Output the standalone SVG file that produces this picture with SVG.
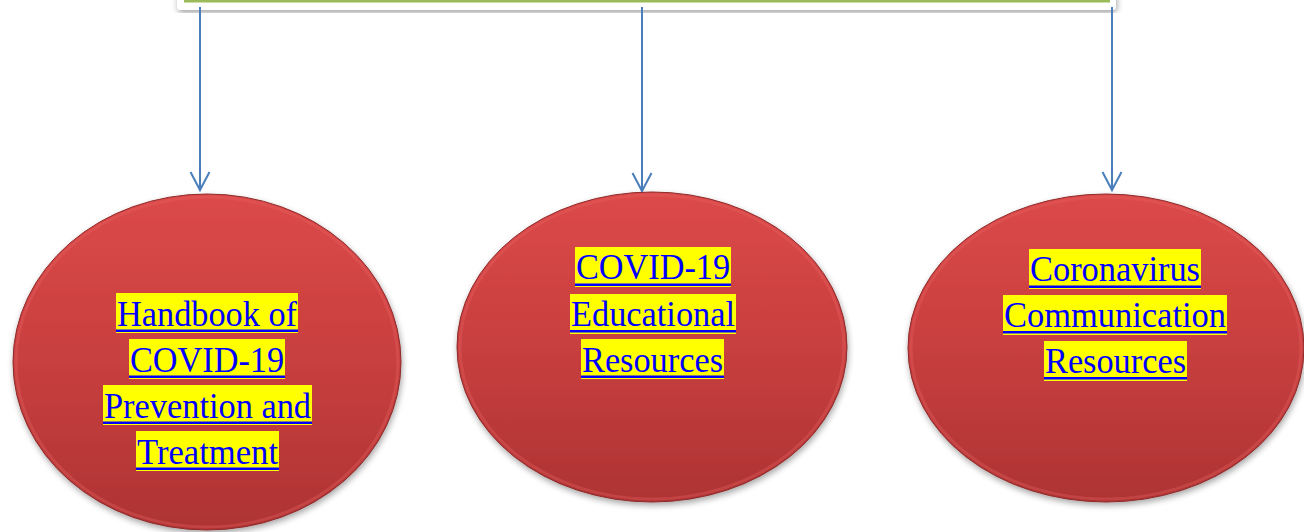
<svg xmlns="http://www.w3.org/2000/svg" width="1304" height="532" viewBox="0 0 1304 532">
<defs>
<linearGradient id="red" x1="0" y1="0" x2="0" y2="1">
<stop offset="0" stop-color="#dc4949"/>
<stop offset="0.5" stop-color="#c83f3f"/>
<stop offset="1" stop-color="#ae3333"/>
</linearGradient>
<filter id="sh" x="-10%" y="-10%" width="120%" height="125%">
<feGaussianBlur in="SourceAlpha" stdDeviation="3"/>
<feOffset dx="1" dy="3" result="b"/>
<feComponentTransfer><feFuncA type="linear" slope="0.35"/></feComponentTransfer>
<feMerge><feMergeNode/><feMergeNode in="SourceGraphic"/></feMerge>
</filter>
<marker id="arr" markerWidth="22" markerHeight="22" refX="19" refY="11" orient="auto" markerUnits="userSpaceOnUse" viewBox="0 0 22 22">
<path d="M1,1.5 L19,11 L1,20.5" fill="none" stroke="#4a7ebb" stroke-width="2"/>
</marker>
</defs>
<style>
.node{fill:url(#red);stroke:#8e2a2a;stroke-width:1;filter:url(#sh)}
.rim{fill:none;stroke:#e86060;stroke-opacity:0.35;stroke-width:3}
.hl{fill:#ffff00}
.ul{fill:#0000ff}
.t{font-family:"Liberation Serif","Times New Roman",serif;font-size:36px;fill:#0000ff;text-anchor:middle}
.conn{stroke:#4a7ebb;stroke-width:2;fill:none}
</style>
<rect width="1304" height="532" fill="#ffffff"/>
<g id="top">
<rect x="177" y="-10" width="939" height="20" rx="4" fill="#ffffff" filter="url(#sh)"/>
<rect x="184" y="-2" width="926" height="4.5" fill="#9bbb59"/>
</g>
<g id="connectors">
<line class="conn" x1="200" y1="7" x2="200" y2="190" marker-end="url(#arr)"/>
<line class="conn" x1="642" y1="7" x2="642" y2="191" marker-end="url(#arr)"/>
<line class="conn" x1="1112" y1="7" x2="1112" y2="190" marker-end="url(#arr)"/>
</g>
<g id="node1">
<ellipse class="node" cx="207" cy="362" rx="194" ry="168"/>
<ellipse class="rim" cx="207" cy="362" rx="191" ry="165"/>
<rect class="hl" x="116" y="293" width="182" height="40"/><rect class="ul" x="116" y="329.5" width="182" height="2.5"/>
<text class="t" x="207" y="326" textLength="180" lengthAdjust="spacingAndGlyphs">Handbook of</text>
<rect class="hl" x="129" y="339" width="156" height="40"/><rect class="ul" x="129" y="375.5" width="156" height="2.5"/>
<text class="t" x="207" y="372" textLength="154" lengthAdjust="spacingAndGlyphs">COVID-19</text>
<rect class="hl" x="103" y="385" width="209" height="40"/><rect class="ul" x="103" y="421.5" width="209" height="2.5"/>
<text class="t" x="207.5" y="418" textLength="207" lengthAdjust="spacingAndGlyphs">Prevention and</text>
<rect class="hl" x="136" y="431" width="143" height="40"/><rect class="ul" x="136" y="467.5" width="143" height="2.5"/>
<text class="t" x="207.5" y="464" textLength="141" lengthAdjust="spacingAndGlyphs">Treatment</text>
</g>
<g id="node2">
<ellipse class="node" cx="652" cy="347" rx="195" ry="155"/>
<ellipse class="rim" cx="652" cy="347" rx="192" ry="152"/>
<rect class="hl" x="575" y="247" width="156" height="40"/><rect class="ul" x="575" y="283.5" width="156" height="2.5"/>
<text class="t" x="653" y="279" textLength="154" lengthAdjust="spacingAndGlyphs">COVID-19</text>
<rect class="hl" x="570" y="294" width="166" height="40"/><rect class="ul" x="570" y="330" width="166" height="2.5"/>
<text class="t" x="653" y="326" textLength="164" lengthAdjust="spacingAndGlyphs">Educational</text>
<rect class="hl" x="581" y="339" width="143" height="40"/><rect class="ul" x="581" y="375.5" width="143" height="2.5"/>
<text class="t" x="652.5" y="372" textLength="141" lengthAdjust="spacingAndGlyphs">Resources</text>
</g>
<g id="node3">
<ellipse class="node" cx="1106" cy="348" rx="198" ry="154"/>
<ellipse class="rim" cx="1106" cy="348" rx="195" ry="151"/>
<rect class="hl" x="1029" y="249" width="172" height="40"/><rect class="ul" x="1029" y="285.5" width="172" height="2.5"/>
<text class="t" x="1115" y="281" textLength="170" lengthAdjust="spacingAndGlyphs">Coronavirus</text>
<rect class="hl" x="1003" y="295" width="224" height="40"/><rect class="ul" x="1003" y="331" width="224" height="2.5"/>
<text class="t" x="1115" y="327" textLength="222" lengthAdjust="spacingAndGlyphs">Communication</text>
<rect class="hl" x="1044" y="341" width="143" height="40"/><rect class="ul" x="1044" y="377" width="143" height="2.5"/>
<text class="t" x="1115.5" y="373" textLength="141" lengthAdjust="spacingAndGlyphs">Resources</text>
</g>
</svg>
